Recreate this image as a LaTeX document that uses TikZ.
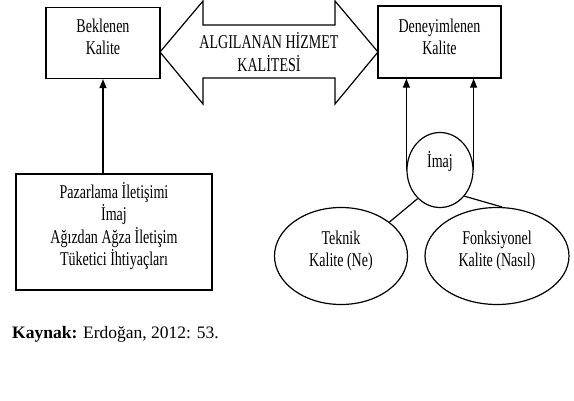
\documentclass[tikz,border=0pt]{standalone}
\usepackage{fontspec}
\setmainfont{Liberation Serif}
\newfontfamily\cond[FakeStretch=0.72]{Liberation Serif}
\usetikzlibrary{shapes.geometric,arrows.meta}
\begin{document}
\begin{tikzpicture}[x=1pt,y=-1pt,
  lbl/.style={font=\cond\fontsize{19.5}{22.5}\selectfont,align=center,inner sep=0pt},
  box/.style={draw,line width=1.3pt,rectangle,inner sep=0pt},
  oval/.style={draw,line width=1.2pt,ellipse,inner sep=0pt},
  arr/.style={line width=1.2pt,-{Triangle[length=9pt,width=7pt]}},
  con/.style={line width=1.2pt}]
\useasboundingbox (0,0) rectangle (574,400);
% boxes
\node[box,minimum width=114pt,minimum height=71pt] (bek) at (103,43) {};
\node[lbl] (bekt) at (103,37) {Beklenen\\Kalite};
\node[box,minimum width=123pt,minimum height=72pt] (den) at (439.5,42) {};
\node[lbl] (dent) at (439.5,37) {Deneyimlenen\\Kalite};
\node[box,minimum width=196pt,minimum height=116pt] (pz) at (114,232) {};
\node[lbl] (pzt) at (114,226)
  {Pazarlama İletişimi\\İmaj\\Ağızdan Ağza İletişim\\Tüketici İhtiyaçları};
% double arrow
\draw[line width=1.2pt,line join=miter] (160,52) -- (203,1) -- (203,25) -- (335,25) -- (335,1)
  -- (378,52) -- (335,104) -- (335,78) -- (203,78) -- (203,104) -- cycle;
\node[lbl] (ahk) at (269,52) {ALGILANAN HİZMET\\KALİTESİ};
% ovals
\node[oval,minimum width=66pt,minimum height=75pt] (imaj) at (440,170) {};
\node[lbl] (imajt) at (440,162) {İmaj};
\node[oval,minimum width=133pt,minimum height=97pt] (tek) at (341,256) {};
\node[lbl] (tekt) at (341,251) {Teknik\\Kalite (Ne)};
\node[oval,minimum width=144pt,minimum height=97pt] (fonk) at (497,256) {};
\node[lbl] (fonkt) at (497,251) {Fonksiyonel\\Kalite (Nasıl)};
% connectors
\draw[arr] (bek.south |- pz.north) -- (bek.south);
\draw[arr] (imaj.west) -- (imaj.west |- den.south);
\draw[arr] (imaj.east) -- (imaj.east |- den.south);
\draw[con] (imaj.-128) -- (tek.35);
\draw[con] (imaj.-47) -- (fonk.84);
% source
\node[anchor=base west,inner sep=0pt,font=\fontsize{17.5}{20}\selectfont] (src) at (12,338)
  {\textbf{Kaynak:} Erdoğan, 2012: 53.};
\end{tikzpicture}
\end{document}
